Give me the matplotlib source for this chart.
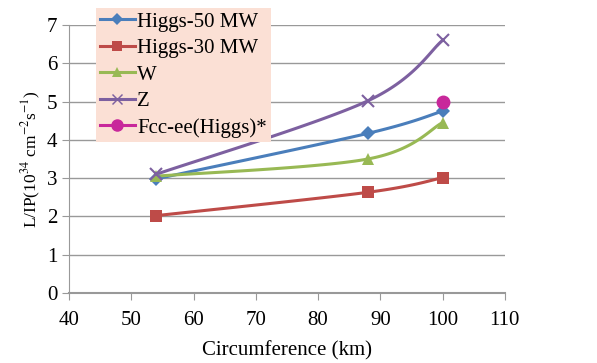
import numpy as np
import matplotlib
matplotlib.use('Agg')
import matplotlib.pyplot as plt

plt.rcParams['font.family'] = ['Liberation Serif', 'DejaVu Serif']
plt.rcParams['mathtext.fontset'] = 'stix'

# data
circumference = [54, 88, 100]
higgs50 = [2.98, 4.17, 4.75]
higgs30 = [2.02, 2.63, 3.01]
w_vals = [3.05, 3.50, 4.45]
z_vals = [3.10, 5.02, 6.60]
fcc_x = [100]
fcc_y = [5.0]

series = [
    ('Higgs-50 MW', higgs50, '#4A7EBB', 'D', 7),
    ('Higgs-30 MW', higgs30, '#BE4B48', 's', 9),
    ('W', w_vals, '#98B954', '^', 9),
    ('Z', z_vals, '#7D60A0', 'x', 9),
]


def smooth(x, y, n=40):
    # Excel-style smoothed line (Catmull-Rom through the points)
    x = np.asarray(x, float)
    y = np.asarray(y, float)
    px = np.concatenate([[x[0]], x, [x[-1]]])
    py = np.concatenate([[y[0]], y, [y[-1]]])
    xs, ys = [], []
    for i in range(1, len(px) - 2):
        p0, p1, p2, p3 = [np.array([px[j], py[j]]) for j in range(i - 1, i + 3)]
        c1 = p1 + (p2 - p0) / 6
        c2 = p2 - (p3 - p1) / 6
        t = np.linspace(0, 1, n)[:, None]
        b = (1 - t) ** 3 * p1 + 3 * (1 - t) ** 2 * t * c1 + 3 * (1 - t) * t ** 2 * c2 + t ** 3 * p2
        xs.extend(b[:, 0])
        ys.extend(b[:, 1])
    return xs, ys


fig = plt.figure(figsize=(5.97, 3.63), dpi=100)
ax = fig.add_axes([0.1156, 0.193, 0.730, 0.738])

handles = []
for label, vals, color, marker, ms in series:
    sx, sy = smooth(circumference, vals)
    ax.plot(sx, sy, color=color, lw=2.2, zorder=3)
    mew = 1.5 if marker == 'x' else 0
    ax.plot(circumference, vals, linestyle='none', marker=marker, color=color,
            ms=ms, mew=mew, zorder=4)
    h, = ax.plot([], [], color=color, lw=2.2, marker=marker, ms=ms * 0.85, mew=mew * 0.7)
    handles.append((h, label))

ax.plot(fcc_x, fcc_y, linestyle='none', marker='o', color='#C8289B', ms=9, zorder=5)
h, = ax.plot([], [], color='#C8289B', lw=2.2, marker='o', ms=8)
handles.append((h, 'Fcc-ee(Higgs)*'))

ax.set_xlim(40, 110)
ax.set_ylim(0, 7)
ax.set_xticks(range(40, 111, 10))
ax.set_yticks(range(0, 8))
ax.yaxis.grid(True, color='#999999', lw=1)
ax.set_axisbelow(True)
for s in ['top', 'right']:
    ax.spines[s].set_visible(False)
ax.spines['left'].set_color('#999999')
ax.spines['bottom'].set_color('#999999')
ax.spines['bottom'].set_linewidth(1.5)
ax.tick_params(axis='both', colors='#999999', labelcolor='black', labelsize=15,
               direction='out', length=5)
ax.tick_params(axis='x', pad=8)

ax.set_xlabel('Circumference (km)', fontsize=15, labelpad=8)
ax.set_ylabel('L/IP(10$^{34}$ cm$^{-2}$s$^{-1}$)', fontsize=12.5, labelpad=3)

leg = fig.legend([h for h, _ in handles], [l for _, l in handles],
                 loc='upper left', bbox_to_anchor=(0.16, 0.978), fontsize=15,
                 frameon=True, fancybox=False, handlelength=1.7,
                 handletextpad=0.1, labelspacing=0.33, borderpad=0.2,
                 borderaxespad=0)
leg.get_frame().set_facecolor('#FBE0D5')
leg.get_frame().set_edgecolor('none')
leg.get_frame().set_alpha(1)

fig.savefig('out.png', dpi=100)
